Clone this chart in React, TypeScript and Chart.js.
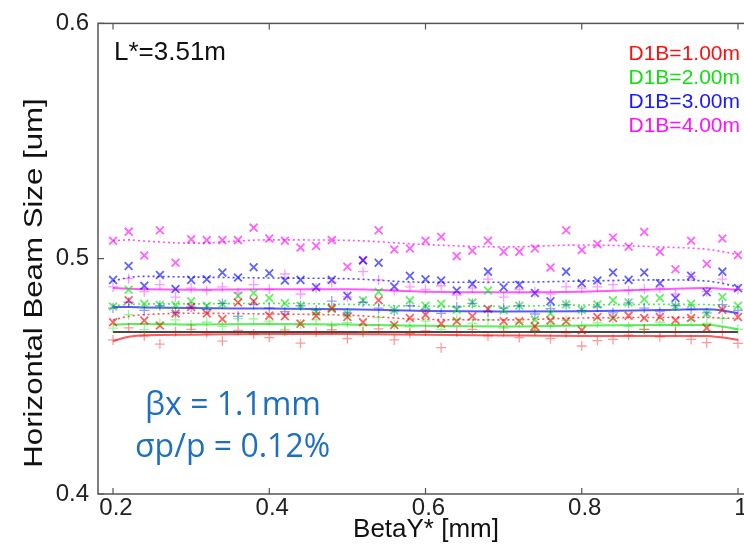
import React, { useEffect, useRef } from 'react';
import { Chart, registerables } from 'chart.js';
Chart.register(...registerables);

// BetaY* [mm] sample positions
const betaY = [0.20, 0.22, 0.24, 0.26, 0.28, 0.30, 0.32, 0.34, 0.36, 0.38,
  0.40, 0.42, 0.44, 0.46, 0.48, 0.50, 0.52, 0.54, 0.56, 0.58,
  0.60, 0.62, 0.64, 0.66, 0.68, 0.70, 0.72, 0.74, 0.76, 0.78,
  0.80, 0.82, 0.84, 0.86, 0.88, 0.90, 0.92, 0.94, 0.96, 0.98, 1.00];

// "x" markers (one series per D1B)
const redX = [0.4730, 0.4823, 0.4737, 0.4716, 0.4767, 0.4795, 0.4767, 0.4744, 0.4814, 0.4819, 0.4758, 0.4755, 0.4724, 0.4758, 0.4790, 0.4752, 0.4730, 0.4823, 0.4718, 0.4748, 0.4762, 0.4724, 0.4734, 0.4755, 0.4786, 0.4734, 0.4734, 0.4713, 0.4737, 0.4734, 0.4696, 0.4752, 0.4748, 0.4758, 0.4748, 0.4752, 0.4738, 0.4748, 0.4706, 0.4783, 0.4752];
const greenX = [0.4797, 0.4868, 0.4808, 0.4803, 0.4803, 0.4819, 0.4800, 0.4808, 0.4842, 0.4854, 0.4833, 0.4811, 0.4800, 0.4776, 0.4786, 0.4767, 0.4823, 0.4859, 0.4781, 0.4823, 0.4800, 0.4808, 0.4783, 0.4814, 0.4865, 0.4781, 0.4800, 0.4741, 0.4767, 0.4805, 0.4783, 0.4805, 0.4823, 0.4814, 0.4828, 0.4833, 0.4797, 0.4808, 0.4767, 0.4837, 0.4800];
const blueX = [0.4910, 0.4969, 0.4885, 0.4931, 0.4871, 0.4910, 0.4913, 0.4941, 0.4920, 0.4964, 0.4938, 0.4907, 0.4910, 0.4879, 0.4910, 0.4842, 0.4992, 0.4983, 0.4882, 0.4927, 0.4913, 0.4907, 0.4865, 0.4893, 0.4945, 0.4879, 0.4889, 0.4854, 0.4819, 0.4945, 0.4896, 0.4907, 0.4941, 0.4910, 0.4941, 0.4896, 0.4833, 0.4927, 0.4857, 0.4945, 0.4875];
const magentaX = [0.5076, 0.5115, 0.5014, 0.5121, 0.4983, 0.5083, 0.5079, 0.5079, 0.5079, 0.5132, 0.5086, 0.5076, 0.5048, 0.5054, 0.5079, 0.4966, 0.4994, 0.5121, 0.5039, 0.5043, 0.5076, 0.5093, 0.5011, 0.5034, 0.5076, 0.5030, 0.5030, 0.5043, 0.4963, 0.5121, 0.5037, 0.5062, 0.5090, 0.5051, 0.5114, 0.5030, 0.4955, 0.5076, 0.4978, 0.5086, 0.5016];

// "+" markers
const redPlus = [0.4655, 0.4706, 0.4671, 0.4637, 0.4690, 0.4700, 0.4685, 0.4650, 0.4695, 0.4680, 0.4665, 0.4692, 0.4641, 0.4688, 0.4698, 0.4660, 0.4690, 0.4702, 0.4655, 0.4683, 0.4693, 0.4622, 0.4688, 0.4700, 0.4672, 0.4690, 0.4665, 0.4695, 0.4660, 0.4685, 0.4629, 0.4652, 0.4657, 0.4675, 0.4700, 0.4668, 0.4688, 0.4657, 0.4643, 0.4690, 0.4640];
const greenPlus = [0.4705, 0.4762, 0.4699, 0.4725, 0.4740, 0.4718, 0.4730, 0.4712, 0.4745, 0.4744, 0.4735, 0.4700, 0.4722, 0.4740, 0.4715, 0.4728, 0.4690, 0.4750, 0.4718, 0.4710, 0.4735, 0.4700, 0.4742, 0.4725, 0.4740, 0.4705, 0.4730, 0.4695, 0.4722, 0.4738, 0.4715, 0.4728, 0.4745, 0.4712, 0.4700, 0.4730, 0.4715, 0.4738, 0.4725, 0.4745, 0.4700];
const bluePlus = [0.4790, 0.4815, 0.4780, 0.4800, 0.4772, 0.4795, 0.4785, 0.4810, 0.4755, 0.4805, 0.4790, 0.4775, 0.4800, 0.4782, 0.4820, 0.4770, 0.4815, 0.4790, 0.4778, 0.4800, 0.4785, 0.4768, 0.4795, 0.4810, 0.4776, 0.4790, 0.4800, 0.4765, 0.4788, 0.4805, 0.4780, 0.4795, 0.4770, 0.4812, 0.4790, 0.4775, 0.4800, 0.4785, 0.4770, 0.4805, 0.4780];
const magentaPlus = [0.4880, 0.4915, 0.4860, 0.4890, 0.4837, 0.4875, 0.4865, 0.4880, 0.4855, 0.4890, 0.4870, 0.4935, 0.4850, 0.4875, 0.4900, 0.4838, 0.4945, 0.4910, 0.4865, 0.4880, 0.4870, 0.4885, 0.4845, 0.4875, 0.4913, 0.4837, 0.4870, 0.4860, 0.4850, 0.4880, 0.4875, 0.4880, 0.4890, 0.4865, 0.4870, 0.4875, 0.4850, 0.4925, 0.4860, 0.4913, 0.4870];

// fitted curves
const fitX = [0.20, 0.22, 0.24, 0.30, 0.40, 0.50, 0.60, 0.70, 0.80, 0.90, 0.96, 0.98, 1.00];
const redFitX = [0.4740, 0.4755, 0.4762, 0.4768, 0.4765, 0.4760, 0.4742, 0.4740, 0.4748, 0.4750, 0.4750, 0.4748, 0.4745];
const greenFitX = [0.4800, 0.4805, 0.4808, 0.4808, 0.4810, 0.4806, 0.4798, 0.4798, 0.4803, 0.4806, 0.4805, 0.4800, 0.4795];
const blueFitX = [0.4905, 0.4920, 0.4925, 0.4922, 0.4918, 0.4915, 0.4900, 0.4900, 0.4905, 0.4910, 0.4905, 0.4895, 0.4880];
const magentaFitX = [0.5076, 0.5080, 0.5075, 0.5066, 0.5080, 0.5078, 0.5060, 0.5050, 0.5058, 0.5050, 0.5040, 0.5030, 0.5018];
const redFitPlus = [0.4650, 0.4668, 0.4675, 0.4677, 0.4680, 0.4680, 0.4677, 0.4674, 0.4672, 0.4672, 0.4672, 0.4665, 0.4655];
const greenFitPlus = [0.4720, 0.4722, 0.4722, 0.4720, 0.4722, 0.4720, 0.4715, 0.4712, 0.4716, 0.4718, 0.4718, 0.4712, 0.4700];
const blueFitPlus = [0.4795, 0.4795, 0.4793, 0.4790, 0.4788, 0.4785, 0.4778, 0.4776, 0.4777, 0.4782, 0.4785, 0.4780, 0.4768];
const magentaFitPlus = [0.4875, 0.4872, 0.4870, 0.4868, 0.4870, 0.4870, 0.4860, 0.4857, 0.4860, 0.4870, 0.4875, 0.4872, 0.4868];
const refX = [0.20, 1.00];
const refY = [0.4688, 0.4688];

const xTicks = [0.2, 0.4, 0.6, 0.8, 1.0];
const yTicks = [0.4, 0.5, 0.6];
const legendLabels = ['D1B=1.00m', 'D1B=2.00m', 'D1B=3.00m', 'D1B=4.00m'];
const seriesRGB = ['255,0,0', '0,230,0', '0,0,255', '255,0,255'];
const legendColors = ['#ff1010', '#10e010', '#1a1aff', '#ff10ff'];

const FONT = '"Liberation Sans", Arial, sans-serif';

export default function App() {
  const ref = useRef<HTMLCanvasElement>(null);
  useEffect(() => {
    document.body.style.margin = '0';
    document.body.style.overflow = 'hidden';
    const canvas = ref.current!;
    const pts = (ys: number[]) => betaY.map((x, i) => ({ x, y: ys[i] }));
    const fit = (ys: number[]) => fitX.map((x, i) => ({ x, y: ys[i] }));
    const xSets = [redX, greenX, blueX, magentaX];
    const plusSets = [redPlus, greenPlus, bluePlus, magentaPlus];
    const fitXs = [redFitX, greenFitX, blueFitX, magentaFitX];
    const fitPs = [redFitPlus, greenFitPlus, blueFitPlus, magentaFitPlus];
    const datasets: any[] = [];
    for (let s = 0; s < 4; s++) {
      const c = seriesRGB[s];
      datasets.push({ data: pts(plusSets[s]), pointStyle: 'cross', pointRadius: 5, borderColor: `rgba(${c},0.4)`, backgroundColor: 'transparent', borderWidth: 1.3, showLine: false });
    }
    for (let s = 0; s < 4; s++) {
      const c = seriesRGB[s];
      datasets.push({ data: pts(xSets[s]), pointStyle: 'crossRot', pointRadius: 5.5, borderColor: `rgba(${c},0.62)`, backgroundColor: 'transparent', borderWidth: 1.8, showLine: false });
    }
    for (let s = 0; s < 4; s++) {
      const c = seriesRGB[s];
      datasets.push({ data: fit(fitPs[s]), showLine: true, pointRadius: 0, borderColor: `rgba(${c},0.65)`, borderWidth: 2, tension: 0.4, cubicInterpolationMode: 'monotone' });
      datasets.push({ data: fit(fitXs[s]), showLine: true, pointRadius: 0, borderColor: `rgba(${c},0.7)`, borderWidth: 1.6, borderDash: [2, 3], tension: 0.4, cubicInterpolationMode: 'monotone' });
    }
    datasets.push({ data: refX.map((x, i) => ({ x, y: refY[i] })), showLine: true, pointRadius: 0, borderColor: 'rgba(40,40,40,0.85)', borderWidth: 2 });

    const framePlugin = {
      id: 'frame',
      afterDraw(chart: any) {
        const { ctx, chartArea: a, scales } = chart;
        ctx.save();
        ctx.strokeStyle = '#555';
        ctx.lineWidth = 1.5;
        ctx.strokeRect(a.left, a.top, a.right - a.left, a.bottom - a.top);
        ctx.lineWidth = 1.2;
        ctx.beginPath();
        for (const v of xTicks) {
          const px = scales.x.getPixelForValue(v);
          ctx.moveTo(px, a.bottom); ctx.lineTo(px, a.bottom - 6);
          ctx.moveTo(px, a.top); ctx.lineTo(px, a.top + 6);
        }
        for (const v of yTicks) {
          const py = scales.y.getPixelForValue(v);
          ctx.moveTo(a.left, py); ctx.lineTo(a.left + 6, py);
          ctx.moveTo(a.right, py); ctx.lineTo(a.right - 6, py);
        }
        ctx.stroke();

        ctx.fillStyle = '#111';
        ctx.textBaseline = 'middle';
        ctx.textAlign = 'left';
        ctx.font = `26px ${FONT}`;
        ctx.fillText('L*=3.51m', 114, 53);

        ctx.textAlign = 'right';
        ctx.font = `21px ${FONT}`;
        legendLabels.forEach((t, i) => {
          ctx.fillStyle = legendColors[i];
          ctx.fillText(t, 740, 54 + i * 24);
        });

        // axis titles
        ctx.fillStyle = '#111';
        ctx.textAlign = 'center';
        ctx.font = `26px ${FONT}`;
        ctx.fillText('BetaY* [mm]', 426, 530);
        ctx.save();
        ctx.translate(35, 283);
        ctx.rotate(-Math.PI / 2);
        ctx.scale(1.2, 1);
        ctx.font = `26px ${FONT}`;
        ctx.fillText('Horizontal Beam Size [um]', 0, 0);
        ctx.restore();

        // annotation
        ctx.fillStyle = '#1d6fbf';
        ctx.textAlign = 'left';
        ctx.font = `32px "Open Sans", Lato, sans-serif`;
        ctx.fillText('\u03B2x = 1.1mm', 145, 406);
        ctx.fillText('\u03C3p/p = 0.12%', 135, 448);
        ctx.restore();
      },
    };

    const chart = new Chart(canvas, {
      type: 'scatter',
      data: { datasets },
      options: {
        animation: false,
        responsive: false,
        devicePixelRatio: 1,
        layout: { padding: { left: 0, right: 10, top: 20, bottom: 0 } },
        plugins: { legend: { display: false }, tooltip: { enabled: false } },
        scales: {
          x: {
            type: 'linear',
            min: 0.18077,
            max: 1.01538,
            grid: { display: false, drawTicks: false },
            border: { display: false },
            afterBuildTicks: (s: any) => { s.ticks = xTicks.map((v) => ({ value: v })); },
            afterFit: (s: any) => { s.height = 53; },
            ticks: {
              padding: 0,
              labelOffset: 3,
              color: '#222',
              font: { family: FONT, size: 24 },
              maxRotation: 0,
              autoSkip: false,
              callback: (v: any) => (v === 1 ? '1' : Number(v).toFixed(1)),
            },
          },
          y: {
            type: 'linear',
            min: 0.4,
            max: 0.6,
            grid: { display: false, drawTicks: false },
            border: { display: false },
            afterBuildTicks: (s: any) => { s.ticks = yTicks.map((v) => ({ value: v })); },
            afterFit: (s: any) => { s.width = 98; },
            ticks: {
              padding: 9,
              color: '#222',
              font: { family: FONT, size: 24 },
              callback: (v: any) => Number(v).toFixed(1),
            },
          },
        },
      },
      plugins: [framePlugin],
    });
    return () => chart.destroy();
  }, []);
  return (
    <div style={{ position: 'absolute', left: 0, top: 0, width: 744, height: 547, overflow: 'hidden', background: '#fff' }}>
      <canvas ref={ref} width={760} height={547} style={{ width: 760, height: 547, display: 'block' }} />
    </div>
  );
}
